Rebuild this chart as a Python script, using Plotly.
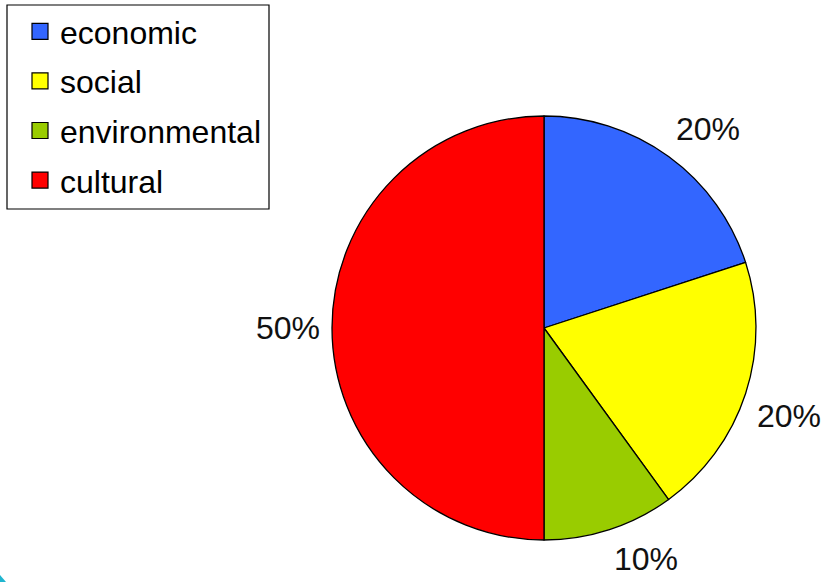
import math
import plotly.graph_objects as go

labels = ["economic", "social", "environmental", "cultural"]
values = [20, 20, 10, 50]
colors = ["#3366FF", "#FFFF00", "#99CC00", "#FF0000"]

W, H = 827, 582
cx, cy, R = 544, 328, 212  # pie center/radius in px

fig = go.Figure()
fig.add_trace(go.Pie(
    labels=labels, values=values, sort=False, direction="clockwise", rotation=0,
    marker=dict(colors=colors, line=dict(color="black", width=1.3)),
    textinfo="none", hoverinfo="label+percent", showlegend=False,
    domain=dict(x=[(cx - R) / W, (cx + R) / W], y=[1 - (cy + R) / H, 1 - (cy - R) / H]),
))

# legend entries
for lab, col in zip(labels, colors):
    fig.add_trace(go.Scatter(
        x=[None], y=[None], mode="markers", name=lab, legendgroup=lab,
        marker=dict(symbol="square", size=20, color=col, line=dict(color="black", width=1.2)),
    ))

# percentage labels placed from the data, anchored by quadrant
total = sum(values)
cum = 0
for v in values:
    mid = (cum + v / 2) / total * 2 * math.pi
    cum += v
    r = R * 1.05
    s, c = math.sin(mid), math.cos(mid)
    px = cx + r * s
    py = cy - r * c
    xa = "center" if abs(s) < 0.2 else ("left" if s > 0 else "right")
    ya = "middle" if abs(c) < 0.2 else ("bottom" if c > 0 else "top")
    fig.add_annotation(
        x=px / W, y=1 - py / H, xref="paper", yref="paper",
        text=f"{round(v / total * 100)}%", showarrow=False,
        font=dict(family="Liberation Sans, Arial", size=32, color="#111111"),
        xanchor=xa, yanchor=ya, borderpad=0,
    )

fig.update_layout(
    width=W, height=H,
    margin=dict(l=0, r=0, t=0, b=0),
    paper_bgcolor="white", plot_bgcolor="white",
    xaxis=dict(visible=False), yaxis=dict(visible=False),
    font=dict(family="Liberation Sans, Arial", size=32, color="black"),
    legend=dict(x=20 / W, y=1 - 4 / H, xanchor="left", yanchor="top",
                bgcolor="rgba(0,0,0,0)", borderwidth=0, tracegroupgap=5,
                font=dict(size=32)),
    shapes=[
        dict(type="rect", xref="paper", yref="paper",
             x0=7 / W, x1=269 / W, y0=1 - 209 / H, y1=1 - 5 / H,
             line=dict(color="black", width=1.2), fillcolor="rgba(0,0,0,0)"),
        dict(type="path", xref="paper", yref="paper",
             path=f"M0,{7 / H} L{6 / W},0 L0,0 Z",
             line=dict(width=0), fillcolor="#1FB5CF"),
    ],
)

fig.write_html("out.html")
